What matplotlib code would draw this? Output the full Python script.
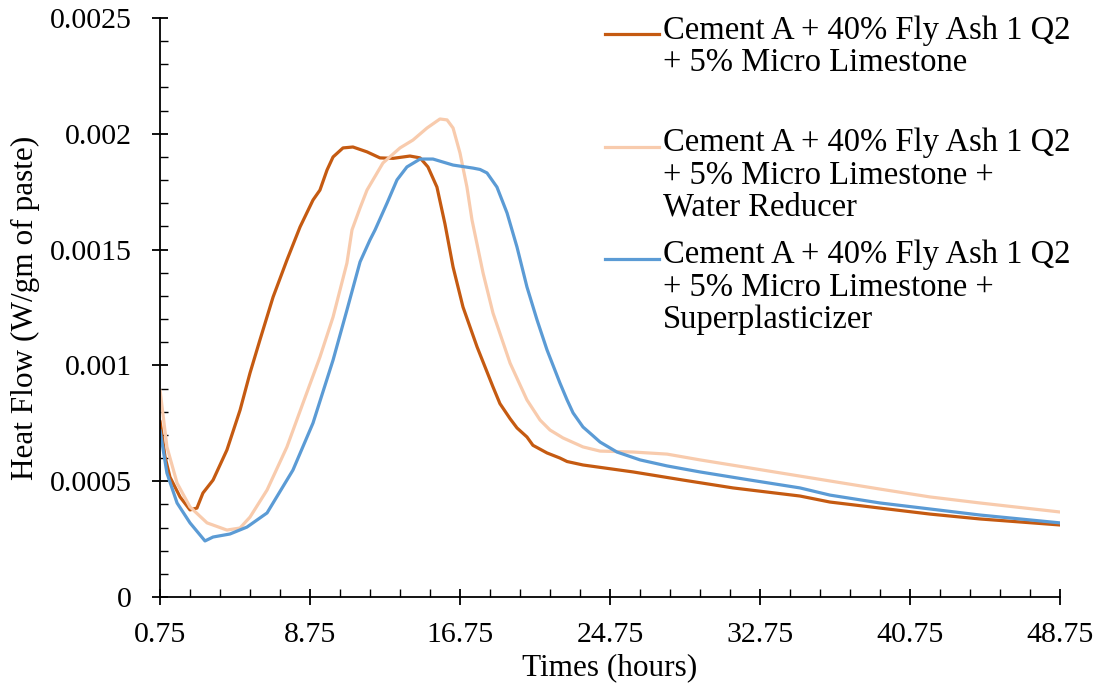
import numpy as np
import matplotlib
matplotlib.use("Agg")
import matplotlib.pyplot as plt
from matplotlib.lines import Line2D

plt.rcParams['font.family'] = ['Liberation Serif', 'DejaVu Serif']

# data (time in hours, heat flow in W/gm of paste x 1e-3)
t_a = [0.75, 1.02, 1.28, 1.82, 2.35, 2.72, 3.04, 3.58, 4.32, 5.02, 5.55, 6.08, 6.78,
       7.52, 8.22, 8.91, 9.28, 9.66, 9.98, 10.51, 11.04, 11.79, 12.48, 13.18, 14.08,
       14.62, 15.04, 15.52, 15.95, 16.38, 16.91, 17.66, 18.51, 18.88, 19.42, 19.79,
       20.32, 20.64, 21.39, 22.08, 22.46, 23.31, 25.98, 28.64, 31.31, 34.88, 36.48,
       39.15, 41.82, 44.48, 48.75]
q_a = [0.760, 0.605, 0.518, 0.432, 0.376, 0.384, 0.449, 0.505, 0.635, 0.807, 0.967,
       1.110, 1.295, 1.455, 1.598, 1.714, 1.757, 1.844, 1.900, 1.939, 1.943, 1.922,
       1.896, 1.894, 1.904, 1.896, 1.857, 1.770, 1.610, 1.425, 1.252, 1.080, 0.907,
       0.835, 0.770, 0.730, 0.691, 0.655, 0.622, 0.600, 0.585, 0.570, 0.540, 0.505,
       0.471, 0.436, 0.410, 0.384, 0.358, 0.337, 0.311]

t_wr = [0.75, 1.12, 1.66, 2.35, 3.26, 4.32, 5.02, 5.55, 6.46, 7.52, 8.38, 9.28, 9.98,
        10.72, 10.99, 11.42, 11.79, 12.11, 12.64, 13.55, 14.24, 14.99, 15.68, 16.06,
        16.38, 16.75, 17.12, 17.39, 17.98, 18.51, 19.42, 20.32, 21.02, 21.55, 22.24,
        23.31, 24.22, 25.98, 27.79, 29.55, 32.22, 34.88, 36.48, 39.15, 41.82, 44.48,
        48.75]
q_wr = [0.894, 0.648, 0.492, 0.389, 0.320, 0.289, 0.298, 0.345, 0.462, 0.648, 0.838,
        1.036, 1.209, 1.442, 1.585, 1.680, 1.757, 1.801, 1.874, 1.939, 1.973, 2.025,
        2.064, 2.060, 2.025, 1.917, 1.770, 1.628, 1.399, 1.226, 1.010, 0.851, 0.764,
        0.721, 0.687, 0.648, 0.630, 0.626, 0.617, 0.592, 0.557, 0.522, 0.501, 0.466,
        0.432, 0.406, 0.367]

t_sp = [0.75, 1.12, 1.66, 2.35, 3.15, 3.58, 4.48, 5.39, 6.46, 7.84, 8.91, 9.98, 10.72,
        11.42, 11.95, 12.22, 12.86, 13.39, 13.92, 14.62, 15.31, 16.38, 17.44, 17.82,
        18.19, 18.72, 19.26, 19.79, 20.32, 20.86, 21.39, 22.08, 22.46, 22.78, 23.31,
        23.79, 24.22, 25.12, 26.35, 27.79, 29.55, 32.22, 34.88, 36.48, 39.15, 41.82,
        44.48, 48.75]
q_sp = [0.721, 0.535, 0.406, 0.320, 0.242, 0.259, 0.272, 0.302, 0.363, 0.548, 0.751,
        1.023, 1.239, 1.447, 1.542, 1.585, 1.701, 1.801, 1.857, 1.891, 1.891, 1.865,
        1.852, 1.846, 1.831, 1.770, 1.658, 1.511, 1.339, 1.196, 1.067, 0.924, 0.851,
        0.795, 0.734, 0.700, 0.669, 0.626, 0.592, 0.566, 0.540, 0.505, 0.471, 0.440,
        0.406, 0.380, 0.354, 0.320]

labels = ["Cement A + 40% Fly Ash 1 Q2\n+ 5% Micro Limestone",
          "Cement A + 40% Fly Ash 1 Q2\n+ 5% Micro Limestone +\nWater Reducer",
          "Cement A + 40% Fly Ash 1 Q2\n+ 5% Micro Limestone +\nSuperplasticizer"]
colors = ['#C55A11', '#F8CBAD', '#5B9BD5']

x_ticks = [0.75, 8.75, 16.75, 24.75, 32.75, 40.75, 48.75]
y_ticks = [0, 0.0005, 0.001, 0.0015, 0.002, 0.0025]
y_tick_labels = ['0', '0.0005', '0.001', '0.0015', '0.002', '0.0025']

W, H = 1100, 688
fig = plt.figure(figsize=(11, 6.88), dpi=100)
ax = fig.add_axes([160 / W, 1 - 597 / H, 900 / W, 579 / H])

series = [(t_a, q_a), (t_wr, q_wr), (t_sp, q_sp)]
for (t, q), c in zip(series, colors):
    ax.plot(t, np.array(q) / 1000, color=c, lw=2.3, solid_joinstyle='round',
            solid_capstyle='round')

ax.set_xlim(0.75, 48.75)
ax.set_ylim(0, 0.0025)
ax.set_xticks(x_ticks)
ax.set_xticklabels([f'{v:.2f}' for v in x_ticks])
ax.set_xticks(np.arange(0.75, 48.76, 1.6), minor=True)
ax.set_yticks(y_ticks)
ax.set_yticklabels(y_tick_labels)
ax.set_yticks(np.arange(0, 0.00251, 0.0001), minor=True)

for s in ['top', 'right']:
    ax.spines[s].set_visible(False)
for s in ['left', 'bottom']:
    ax.spines[s].set_linewidth(1.3)

ax.tick_params(which='major', direction='inout', length=12, width=1.3, labelsize=21.5)
ax.tick_params(axis='x', which='major', pad=12)
ax.tick_params(axis='y', which='major', pad=14)
ax.tick_params(which='minor', direction='in', length=6, width=1.0)

# axis titles
fig.text(610 / W, 1 - 668 / H, 'Times (hours)', fontsize=22.5, ha='center', va='center')
fig.text(25 / W, 1 - 308 / H, 'Heat Flow (W/gm of paste)', fontsize=22.5,
         ha='center', va='center', rotation=90)

# legend drawn by hand so each entry keeps Excel's spacing
entry_y = [34, 147, 259]
for lab, c, y in zip(labels, colors, entry_y):
    fig.add_artist(Line2D([605 / W, 659 / W], [1 - y / H, 1 - y / H], color=c, lw=2.3))
    fig.text(663 / W, 1 - (y - 19) / H, lab, fontsize=23.5, va='top', ha='left',
             linespacing=1.07)

fig.savefig('out.png', dpi=100)
